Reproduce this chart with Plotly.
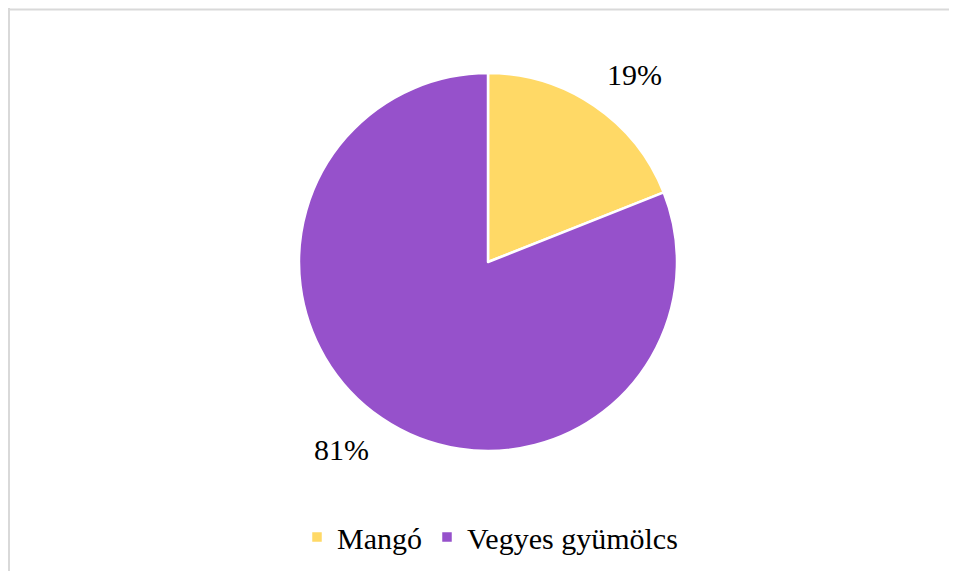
import math
import plotly.graph_objects as go

# share of flavours
labels = ["Mangó", "Vegyes gyümölcs"]
values = [19, 81]
colors = ["#FFD966", "#9651CB"]

# the page body adds an 8px margin, so the figure is a bit smaller
W, H = 949, 563
FONT = "Liberation Serif"

# pie placement in pixels (figure coords)
cx, cy, R = 480, 254, 189
dom_x = [(cx - R) / W, (cx + R) / W]
dom_y = [(H - cy - R) / H, (H - cy + R) / H]

fig = go.Figure()
fig.add_trace(go.Pie(
    labels=labels,
    values=values,
    sort=False,
    direction="clockwise",
    rotation=0,
    marker=dict(colors=colors, line=dict(color="white", width=2.5)),
    textinfo="none",
    domain=dict(x=dom_x, y=dom_y),
    hoverinfo="label+percent",
))

# percentage labels outside the slices, placed from the data
total = sum(values)
cum = 0
for v in values:
    mid = (cum + v / 2) / total * 360 + 3.7
    cum += v
    a = math.radians(mid)
    px = cx + 1.26 * R * math.sin(a)
    py = cy - 1.26 * R * math.cos(a)
    fig.add_annotation(
        x=px / W, y=(H - py) / H, xref="paper", yref="paper",
        text=f"{round(v / total * 100)}%", showarrow=False,
        font=dict(family=FONT, size=30, color="black"),
        xanchor="center", yanchor="middle",
    )

# light grey frame (top and left edges visible)
fig.add_shape(type="line", xref="paper", yref="paper",
              x0=0, x1=1, y0=1 - 1.5 / H, y1=1 - 1.5 / H,
              line=dict(color="#d9d9d9", width=2))
fig.add_shape(type="line", xref="paper", yref="paper",
              x0=1 / W, x1=1 / W, y0=0, y1=1,
              line=dict(color="#d9d9d9", width=2))

fig.update_layout(
    width=W, height=H,
    margin=dict(l=0, r=0, t=0, b=0),
    paper_bgcolor="white",
    plot_bgcolor="white",
    font=dict(family=FONT, color="black"),
    showlegend=True,
    legend=dict(
        orientation="h",
        x=289 / W, xanchor="left",
        y=(H - 529) / H, yanchor="middle",
        font=dict(family=FONT, size=30, color="black"),
        itemwidth=30,
        traceorder="normal",
    ),
)

fig.write_html("out.html")
